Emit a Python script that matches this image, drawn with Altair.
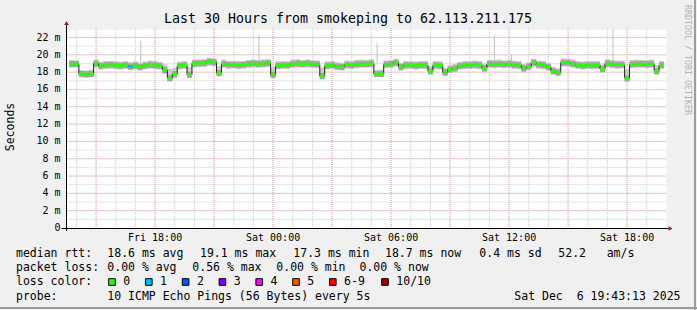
import altair as alt
import pandas as pd

FONT = "DejaVu Sans Mono"
NBSP = "\u00a0"

# ---------------- texts ----------------
TITLE = "Last 30 Hours from smokeping to 62.113.211.175"
Y_TITLE = "Seconds"
WATERMARK = "RRDTOOL / TOBI OETIKER"

rtt_texts = ["median rtt:", "18.6 ms avg", "19.1 ms max", "17.3 ms min",
             "18.7 ms now", "0.4 ms sd", "52.2", "am/s"]
loss_texts = ["packet loss:", "0.00 % avg", "0.56 % max", "0.00 % min", "0.00 % now"]
loss_color_title = "loss color:"
loss_labels = ["0", "1", "2", "3", "4", "5", "6-9", "10/10"]
loss_colors = ["#26ff00", "#00b8ff", "#0059ff", "#7e00ff", "#ff00ff", "#ff5500", "#ff0000", "#a10000"]
probe_label = "probe:"
probe_text = "10 ICMP Echo Pings (56 Bytes) every 5s"
timestamp = "Sat Dec  6 19:43:13 2025"

# ---------------- data (hours since Fri 00:00, values in ms) ----------------
START_HOUR = 13.75
END_HOUR = 43.75
STEP_HOURS = 0.25

median_ms = [18.95, 18.95, 17.8, 17.75, 17.8, 19.0, 18.7, 18.8, 18.85, 18.8,
             18.75, 18.8, 18.65, 18.75, 18.6, 18.75, 18.85, 18.8, 18.7, 18.25,
             17.3, 17.8, 18.75, 18.8, 17.7, 19.0, 19.0, 19.05, 19.2, 19.15,
             17.9, 18.95, 18.85, 18.85, 18.8, 18.85, 18.95, 19.0, 18.95, 19.0,
             19.05, 17.7, 18.75, 18.8, 18.8, 18.95, 19.0, 18.95, 19.0, 18.95,
             18.9, 17.55, 18.75, 18.8, 18.65, 18.6, 18.85, 18.8, 18.9, 18.95,
             18.95, 19.0, 17.8, 17.8, 18.9, 18.95, 19.1, 18.6, 18.8, 18.8,
             18.75, 18.8, 18.8, 18.1, 18.8, 18.75, 17.95, 18.3, 18.45, 18.7,
             18.8, 18.8, 18.85, 18.8, 18.45, 18.95, 18.9, 18.95, 18.9, 18.95,
             18.85, 18.8, 18.45, 18.65, 19.1, 18.85, 18.8, 18.6, 18.1, 17.95,
             19.1, 19.1, 18.95, 18.8, 18.75, 18.8, 18.8, 18.8, 18.35, 19.0,
             18.9, 18.85, 18.85, 17.3, 18.9, 18.95, 18.95, 18.9, 18.95, 18.1,
             18.8]

smoke_hi_ms = [19.4, 19.35, 18.25, 18.2, 18.3, 19.45, 19.2, 19.3, 19.3, 19.25,
               19.2, 19.3, 19.15, 19.25, 19.1, 19.25, 19.35, 19.3, 19.2, 18.9,
               18.4, 18.5, 19.2, 19.3, 18.6, 19.45, 19.5, 19.5, 19.65, 19.6,
               18.7, 19.45, 19.3, 19.3, 19.3, 19.3, 19.4, 19.45, 19.4, 19.45,
               19.5, 18.6, 19.25, 19.3, 19.25, 19.45, 19.5, 19.4, 19.5, 19.4,
               19.35, 18.5, 19.25, 19.3, 19.15, 19.1, 19.35, 19.3, 19.4, 19.45,
               19.4, 19.5, 18.25, 18.3, 19.35, 19.4, 19.55, 19.1, 19.3, 19.25,
               19.25, 19.3, 19.3, 18.7, 19.3, 19.25, 18.5, 18.8, 18.95, 19.2,
               19.3, 19.3, 19.35, 19.3, 19.0, 19.4, 19.4, 19.45, 19.35, 19.45,
               19.35, 19.3, 18.95, 19.15, 19.55, 19.35, 19.3, 19.1, 18.6, 18.45,
               19.6, 19.55, 19.45, 19.3, 19.25, 19.3, 19.3, 19.3, 18.9, 19.5,
               19.4, 19.35, 19.35, 18.3, 19.4, 19.45, 19.4, 19.4, 19.45, 18.8,
               19.3]

smoke_lo_ms = [18.55, 18.55, 17.4, 17.35, 17.4, 18.55, 18.3, 18.4, 18.4, 18.35,
               18.3, 18.4, 18.25, 18.3, 18.2, 18.35, 18.4, 18.35, 18.3, 17.8,
               16.95, 17.3, 18.3, 18.4, 17.3, 18.55, 18.6, 18.6, 18.75, 18.7,
               17.5, 18.5, 18.4, 18.45, 18.35, 18.4, 18.5, 18.55, 18.5, 18.55,
               18.6, 17.3, 18.35, 18.4, 18.4, 18.5, 18.55, 18.5, 18.55, 18.5,
               18.45, 17.15, 18.35, 18.4, 18.25, 18.2, 18.4, 18.4, 18.45, 18.5,
               18.5, 18.55, 17.4, 17.4, 18.45, 18.5, 18.65, 18.2, 18.35, 18.4,
               18.3, 18.4, 18.4, 17.7, 18.35, 18.3, 17.55, 17.9, 18.0, 18.3,
               18.35, 18.4, 18.4, 18.35, 18.0, 18.5, 18.45, 18.5, 18.45, 18.5,
               18.4, 18.35, 18.0, 18.25, 18.65, 18.4, 18.35, 18.2, 17.7, 17.55,
               18.65, 18.65, 18.5, 18.4, 18.3, 18.4, 18.35, 18.4, 17.95, 18.55,
               18.45, 18.4, 18.45, 16.9, 18.45, 18.5, 18.5, 18.45, 18.5, 17.7,
               18.4]

loss_events = {12: 1}  # sample index -> loss colour bucket

spike_hours = [17.27, 23.28, 29.29, 35.25, 36.12, 41.28]
spike_base_ms = [18.9, 19.0, 19.0, 18.9, 18.95, 18.9]
spike_top_ms = [21.6, 22.3, 21.3, 22.3, 20.0, 23.0]

x_tick_hours = [18, 24, 30, 36, 42]
x_tick_labels = ["Fri 18:00", "Sat 00:00", "Sat 06:00", "Sat 12:00", "Sat 18:00"]
y_label_values = [0, 2, 4, 6, 8, 10, 12, 14, 16, 18, 20, 22]
y_tick_labels = ["0  ", "2 m", "4 m", "6 m", "8 m", "10 m", "12 m", "14 m",
                 "16 m", "18 m", "20 m", "22 m"]
minor_x_hours = list(range(14, 44))
major_x_hours = list(range(15, 44, 3))
minor_y_values = list(range(1, 24))
major_y_values = list(range(2, 23, 2))

# ---------------- layout ----------------
W, H = 600, 200
PAD_L, PAD_T = 66.5, 28


def px(x):
    return x - PAD_L


def py(y):
    return y - PAD_T


n = len(median_ms)
df = pd.DataFrame({
    "h": [START_HOUR + STEP_HOURS * i for i in range(n)],
    "med": median_ms,
    "hi": smoke_hi_ms,
    "lo": smoke_lo_ms,
    "loss": [loss_events.get(i, 0) for i in range(n)],
})
spikes = pd.DataFrame({"h": spike_hours, "b": spike_base_ms, "t": spike_top_ms})
xlab = pd.DataFrame({"h": x_tick_hours, "t": x_tick_labels})
ylab = pd.DataFrame({"v": y_label_values, "t": [s.replace(" ", NBSP) for s in y_tick_labels]})
ONE = pd.DataFrame({"a": [0]})

XS = alt.Scale(domain=[START_HOUR, END_HOUR], nice=False, zero=False)
YS = alt.Scale(domain=[0, 23.1], nice=False, zero=False)

GRID = "#cdcdcd"
MGRID = "#eeaaaa"

grid_minor_x = alt.Chart(pd.DataFrame({"g": minor_x_hours})).mark_rule(
    color=GRID, strokeDash=[1, 1], strokeWidth=1).encode(
    x=alt.X("g:Q", scale=XS, axis=None), y=alt.value(0), y2=alt.value(H))
grid_minor_y = alt.Chart(pd.DataFrame({"g": minor_y_values})).mark_rule(
    color=GRID, strokeDash=[1, 1], strokeWidth=1).encode(
    y=alt.Y("g:Q", scale=YS, axis=None), x=alt.value(0), x2=alt.value(W))
grid_major_x = alt.Chart(pd.DataFrame({"g": major_x_hours})).mark_rule(
    color=MGRID, strokeDash=[1, 1], strokeWidth=1).encode(
    x=alt.X("g:Q", scale=XS, axis=None), y=alt.value(0), y2=alt.value(H))
grid_major_y = alt.Chart(pd.DataFrame({"g": major_y_values})).mark_rule(
    color=MGRID, strokeDash=[1, 1], strokeWidth=1).encode(
    y=alt.Y("g:Q", scale=YS, axis=None), x=alt.value(0), x2=alt.value(W))

smoke = alt.Chart(df).mark_bar(size=5, color="#cbcbcb", clip=True, orient="vertical").encode(
    x=alt.X("h:Q", scale=XS, axis=None),
    y=alt.Y("lo:Q", scale=YS, axis=None),
    y2="hi:Q")

spike_marks = alt.Chart(spikes).mark_rule(color="#c0c0c0", strokeWidth=1, clip=True).encode(
    x=alt.X("h:Q", scale=XS, axis=None),
    y=alt.Y("b:Q", scale=YS, axis=None), y2="t:Q")

inner_smoke = alt.Chart(df).mark_tick(orient="horizontal", thickness=6, size=5,
                                      color="#a4a4a4", opacity=1, clip=True).encode(
    x=alt.X("h:Q", scale=XS, axis=None), y=alt.Y("med:Q", scale=YS, axis=None))

median_line = alt.Chart(df).mark_line(interpolate="step", color="#202020",
                                      strokeWidth=1, clip=True).encode(
    x=alt.X("h:Q", scale=XS, axis=None), y=alt.Y("med:Q", scale=YS, axis=None))

median_band = alt.Chart(df).mark_tick(orient="horizontal", thickness=2.6, size=5,
                                      opacity=1, clip=True).encode(
    x=alt.X("h:Q", scale=XS, axis=None), y=alt.Y("med:Q", scale=YS, axis=None),
    color=alt.Color("loss:O", scale=alt.Scale(domain=list(range(len(loss_colors))),
                                               range=loss_colors), legend=None))

# tick labels drawn through the scales
x_labels = alt.Chart(xlab).mark_text(font=FONT, fontSize=10, color="black",
                                     align="center", baseline="middle").encode(
    x=alt.X("h:Q", scale=XS, axis=None), y=alt.value(py(238)), text="t:N")
y_labels = alt.Chart(ylab).mark_text(font=FONT, fontSize=10, color="black",
                                     align="right", baseline="middle").encode(
    y=alt.Y("v:Q", scale=YS, axis=None), x=alt.value(px(60.5)), text="t:N")

# axes lines and arrows
AXC = "black"
ARROW = "#a01818"
x_line = alt.Chart(ONE).mark_rule(color=AXC, strokeWidth=1).encode(
    x=alt.value(px(61.5)), x2=alt.value(px(668.5)), y=alt.value(H + 0.5))
y_line = alt.Chart(ONE).mark_rule(color=AXC, strokeWidth=1).encode(
    x=alt.value(0), y=alt.value(py(24)), y2=alt.value(py(231)))
arrow_r = alt.Chart(ONE).mark_point(shape="triangle-right", filled=True, color=ARROW,
                                    opacity=1, size=22).encode(
    x=alt.value(px(670.5)), y=alt.value(H + 0.5))
arrow_t = alt.Chart(ONE).mark_point(shape="triangle-up", filled=True, color=ARROW,
                                    opacity=1, size=22).encode(
    x=alt.value(0), y=alt.value(py(23)))

# frame shading
frame_r = alt.Chart(ONE).mark_rule(color="#9c9c9c", strokeWidth=2).encode(
    x=alt.value(px(695)), y=alt.value(py(0)), y2=alt.value(py(310)))
frame_b = alt.Chart(ONE).mark_rule(color="#9c9c9c", strokeWidth=2).encode(
    x=alt.value(px(0)), x2=alt.value(px(697)), y=alt.value(py(308)))


def txt(s, x, y, size=11.5, align="left", angle=0, color="black"):
    return alt.Chart(ONE).mark_text(text=s.replace(" ", NBSP), align=align, baseline="middle",
                                    font=FONT, fontSize=size, color=color, angle=angle).encode(
        x=alt.value(px(x)), y=alt.value(py(y)))


texts = []
texts.append(txt(TITLE, 348, 19, size=13.3, align="center"))
texts.append(txt(Y_TITLE, 10.5, 127, size=11.5, align="center", angle=270))
texts.append(txt(WATERMARK, 686.5, 60, size=8.3, align="center", angle=90, color="#b4b4b4"))

rtt_x = [16, 107.3, 200, 293.3, 385, 479.3, 558.3, 606.7]
loss_x = [16, 107.3, 192.3, 276.3, 359.5]
row_y = [254.3, 268.3, 282.3, 296.7]
for s, x in zip(rtt_texts, rtt_x):
    texts.append(txt(s, x, row_y[0]))
for s, x in zip(loss_texts, loss_x):
    texts.append(txt(s, x, row_y[1]))
texts.append(txt(loss_color_title, 16, row_y[2]))
sq_cx = [112, 148.8, 185.6, 222.4, 259.2, 296, 332.8, 385]
squares = []
for lab, col, cx in zip(loss_labels, loss_colors, sq_cx):
    squares.append(alt.Chart(ONE).mark_point(shape="square", filled=True, fill=col, stroke="black",
                                             strokeWidth=1, opacity=1, size=44).encode(
        x=alt.value(px(cx)), y=alt.value(py(282))))
    texts.append(txt(lab, cx + 11.3, row_y[2]))
texts.append(txt(probe_label, 16, row_y[3]))
texts.append(txt(probe_text, 107.3, row_y[3]))
texts.append(txt(timestamp, 680.5, row_y[3], align="right"))

chart = alt.layer(
    grid_minor_x, grid_minor_y, grid_major_x, grid_major_y,
    smoke, spike_marks, inner_smoke, median_line, median_band,
    x_labels, y_labels,
    x_line, y_line, arrow_r, arrow_t, frame_r, frame_b,
    *squares, *texts,
).properties(
    width=W, height=H,
    autosize=alt.AutoSizeParams(type="none"),
    padding={"left": PAD_L, "top": PAD_T, "right": 697 - PAD_L - W, "bottom": 310 - PAD_T - H},
    background="#f0f0f0",
).configure(font=FONT).configure_view(fill="white", strokeWidth=0)

chart.save("out.html", embed_options={"renderer": "svg", "actions": False})
